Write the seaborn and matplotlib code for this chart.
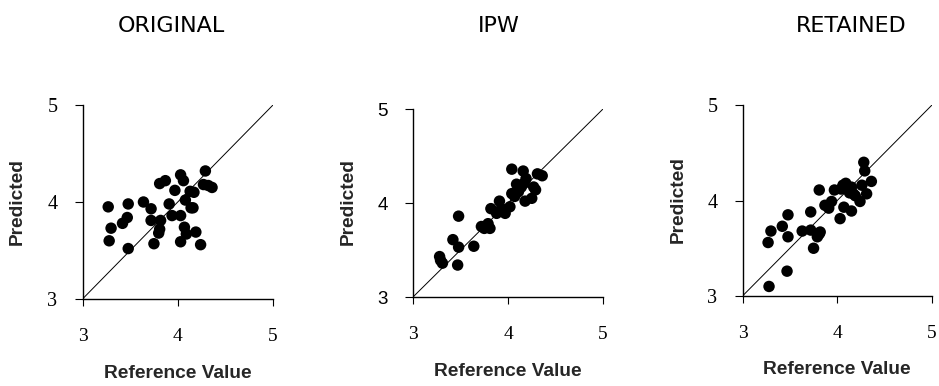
import matplotlib
matplotlib.use("Agg")
import matplotlib.pyplot as plt
import seaborn as sns
import pandas as pd

# Reference vs. predicted values for each weighting scheme
original_ref = [3.27, 3.30, 3.28, 3.48, 3.48, 3.42, 3.47, 3.64, 3.72, 3.72, 3.75, 3.80,
                3.81, 3.82, 3.81, 3.87, 3.91, 3.94, 3.97, 4.03, 4.06, 4.03, 4.03, 4.07,
                4.09, 4.08, 4.14, 4.16, 4.17, 4.19, 4.24, 4.29, 4.27, 4.32, 4.36, 4.13]
original_pred = [3.95, 3.73, 3.60, 3.98, 3.52, 3.78, 3.84, 4.00, 3.93, 3.81, 3.57, 3.68,
                 3.72, 3.81, 4.19, 4.22, 3.98, 3.86, 4.12, 4.28, 4.22, 3.86, 3.59, 3.74,
                 3.67, 4.02, 3.94, 3.94, 4.10, 3.69, 3.56, 4.32, 4.18, 4.17, 4.15, 4.11]

ipw_ref = [3.28, 3.29, 3.31, 3.47, 3.42, 3.48, 3.48, 3.64, 3.72, 3.75, 3.79, 3.81,
           3.82, 3.88, 3.91, 3.93, 3.97, 4.02, 4.04, 4.04, 4.07, 4.09, 4.12, 4.16,
           4.17, 4.19, 4.18, 4.25, 4.27, 4.29, 4.31, 4.36, 4.14, 4.11]
ipw_pred = [3.43, 3.39, 3.36, 3.34, 3.61, 3.53, 3.86, 3.54, 3.75, 3.73, 3.78, 3.73,
            3.94, 3.89, 4.02, 3.94, 3.89, 3.96, 4.36, 4.10, 4.07, 4.20, 4.16, 4.34,
            4.21, 4.26, 4.02, 4.05, 4.17, 4.14, 4.31, 4.29, 4.17, 4.12]

retained_ref = [3.28, 3.27, 3.30, 3.42, 3.48, 3.48, 3.47, 3.63, 3.72, 3.72, 3.75, 3.79,
                3.81, 3.82, 3.81, 3.87, 3.91, 3.94, 3.97, 4.03, 4.04, 4.07, 4.06, 4.09,
                4.12, 4.15, 4.15, 4.17, 4.19, 4.24, 4.26, 4.28, 4.29, 4.31, 4.36, 4.13]
retained_pred = [3.10, 3.56, 3.68, 3.73, 3.85, 3.62, 3.26, 3.68, 3.69, 3.88, 3.50, 3.62,
                 3.65, 3.67, 4.11, 3.95, 3.92, 3.99, 4.11, 3.81, 4.12, 3.93, 4.16, 4.18,
                 4.11, 4.14, 3.89, 4.07, 4.05, 3.99, 4.16, 4.40, 4.31, 4.07, 4.20, 4.08]

panel_titles = ["ORIGINAL", "IPW", "RETAINED"]
tick_values = [3, 4, 5]
x_label = "Reference Value"
y_label = "Predicted"

sns.set_style("ticks")
plt.rcParams["font.family"] = ["DejaVu Sans"]

W, H = 939, 386
fig = plt.figure(figsize=(W / 100, H / 100), dpi=100)


def px_axes(left, right, top, bottom):
    return fig.add_axes([left / W, 1 - bottom / H, (right - left) / W, (bottom - top) / H])


panels = [
    dict(ref=original_ref, pred=original_pred, box=(82.5, 273, 105, 299),
         title_x=171, ylab_x=17, ylab_y=202, xlab_y=373, ytick_font="Liberation Serif"),
    dict(ref=ipw_ref, pred=ipw_pred, box=(413, 603, 109, 297),
         title_x=499, ylab_x=348, ylab_y=202, xlab_y=371, ytick_font="Liberation Sans"),
    dict(ref=retained_ref, pred=retained_pred, box=(742.5, 932, 105, 296),
         title_x=851, ylab_x=678, ylab_y=200, xlab_y=369, ytick_font="Liberation Serif"),
]

label_font = dict(family=["Liberation Sans"], weight="bold", size=13.8)

for title, p in zip(panel_titles, panels):
    left, right, top, bottom = p["box"]
    ax = px_axes(left, right, top, bottom)
    df = pd.DataFrame({"ref": p["ref"], "pred": p["pred"]})

    # identity line
    ax.plot([3, 5], [3, 5], color="black", lw=0.7, zorder=1)
    sns.scatterplot(data=df, x="ref", y="pred", ax=ax, color="black", s=68,
                    edgecolor="none", linewidth=0, zorder=2, legend=False)

    ax.set_xlim(3, 5)
    ax.set_ylim(3, 5)
    ax.set_xticks(tick_values)
    ax.set_yticks(tick_values)
    ax.set_xticklabels([str(v) for v in tick_values], family="Liberation Serif", size=14)
    ysize = 14.5 if p["ytick_font"] == "Liberation Serif" else 13.5
    ax.set_yticklabels([str(v) for v in tick_values], family=p["ytick_font"], size=ysize)
    ax.tick_params(axis="x", direction="out", length=5, width=0.8, pad=16, colors="black")
    ax.tick_params(axis="y", direction="out", length=6, width=0.8, pad=12, colors="black")
    for side in ("top", "right"):
        ax.spines[side].set_visible(False)
    for side in ("left", "bottom"):
        ax.spines[side].set_color("black")
        ax.spines[side].set_linewidth(1.0)

    ax.set_xlabel(x_label, **label_font)
    ax.set_ylabel(y_label, **label_font)
    aw, ah = right - left, bottom - top
    ax.xaxis.set_label_coords(((left + right) / 2 - left) / aw, (bottom - p["xlab_y"]) / ah)
    ax.yaxis.set_label_coords((p["ylab_x"] - left) / aw, (bottom - p["ylab_y"]) / ah)
    ax.xaxis.label.set_va("center")
    ax.yaxis.label.set_va("center")

    fig.text(p["title_x"] / W, 1 - 26 / H, title, ha="center", va="center",
             family="DejaVu Sans", size=16, color="black")

fig.savefig("out.png", dpi=100, facecolor="white")
